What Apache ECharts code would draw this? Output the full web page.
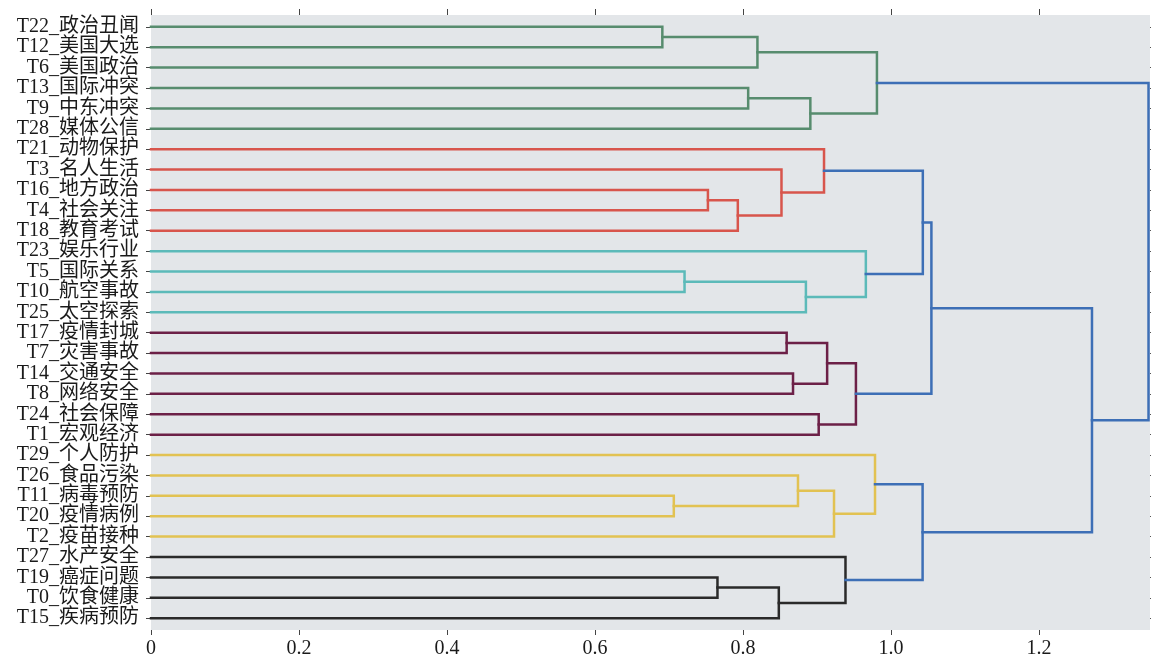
<!DOCTYPE html>
<html>
<head>
<meta charset="utf-8">
<script src="https://cdn.jsdelivr.net/npm/echarts@6/dist/echarts.min.js"></script>
<style>
  html, body { margin: 0; padding: 0; background: #ffffff; }
  #chart { width: 1151px; height: 659px; }
</style>
</head>
<body>
<div id="chart"></div>
<script>
// Leaf labels, top to bottom
const leaves = [
  'T22_政治丑闻', 'T12_美国大选', 'T6_美国政治', 'T13_国际冲突', 'T9_中东冲突',
  'T28_媒体公信', 'T21_动物保护', 'T3_名人生活', 'T16_地方政治', 'T4_社会关注',
  'T18_教育考试', 'T23_娱乐行业', 'T5_国际关系', 'T10_航空事故', 'T25_太空探索',
  'T17_疫情封城', 'T7_灾害事故', 'T14_交通安全', 'T8_网络安全', 'T24_社会保障',
  'T1_宏观经济', 'T29_个人防护', 'T26_食品污染', 'T11_病毒预防', 'T20_疫情病例',
  'T2_疫苗接种', 'T27_水产安全', 'T19_癌症问题', 'T0_饮食健康', 'T15_疾病预防'
];

// Cluster merges: node ids 0..29 are leaves, each merge creates node 30, 31, ...
// [child A, child B, merge distance, branch group]
const mergeLeft   = [0, 30, 3, 32, 31,  8, 35, 7, 6, 12, 39, 11, 38, 15, 17, 43, 19, 45, 42, 23, 22, 50, 21, 27, 53, 26, 52, 48, 34];
const mergeRight  = [1,  2, 4,  5, 33,  9, 10, 36, 37, 13, 14, 40, 41, 16, 18, 44, 20, 46, 47, 24, 49, 25, 51, 28, 29, 54, 55, 56, 57];
const mergeHeight = [0.691, 0.8195, 0.807, 0.891, 0.981,
                     0.7526, 0.793, 0.852, 0.9095,
                     0.721, 0.885, 0.966,
                     1.043,
                     0.859, 0.8676, 0.9137, 0.9023, 0.9526,
                     1.0546,
                     0.7065, 0.8743, 0.923, 0.9784,
                     0.7655, 0.8484, 0.9385,
                     1.0427, 1.2716, 1.348];
const mergeGroup  = ['g', 'g', 'g', 'g', 'g',
                     'r', 'r', 'r', 'r',
                     'c', 'c', 'c',
                     'b',
                     'p', 'p', 'p', 'p', 'p',
                     'b',
                     'y', 'y', 'y', 'y',
                     'k', 'k', 'k',
                     'b', 'b', 'b'];

const xTicks = [0, 0.2, 0.4, 0.6, 0.8, 1.0, 1.2];
const leafRows = leaves.map((_, i) => i);

const groupColors = {
  g: '#578c6e', r: '#d8554c', c: '#5cbab9', p: '#6c2047',
  y: '#e2c252', k: '#2a2a2a', b: '#3d6fb6'
};

// Position (leaf row) and height of every node
const nodeY = leafRows.slice();
const nodeH = leaves.map(() => 0);
const series = [];
mergeLeft.forEach((a, i) => {
  const b = mergeRight[i];
  const h = mergeHeight[i];
  nodeY.push((nodeY[a] + nodeY[b]) / 2);
  nodeH.push(h);
  series.push({
    type: 'line',
    xAxisIndex: 0,
    yAxisIndex: 0,
    symbol: 'none',
    silent: true,
    animation: false,
    lineStyle: { color: groupColors[mergeGroup[i]], width: 2.5, cap: 'square', join: 'miter' },
    data: [
      [nodeH[a], nodeY[a]],
      [h, nodeY[a]],
      [h, nodeY[b]],
      [nodeH[b], nodeY[b]]
    ]
  });
});

const fontFamily = "'Liberation Serif', 'Noto Sans CJK SC', serif";
const fmt = v => (v === 0 ? '0' : v.toFixed(1));
const rowMin = -0.58, rowMax = leaves.length - 1 + 0.58;

const chart = echarts.init(document.getElementById('chart'), null, { renderer: 'canvas' });
chart.setOption({
  backgroundColor: '#ffffff',
  animation: false,
  grid: {
    left: 151, right: 1, top: 15, bottom: 27,
    show: true, backgroundColor: '#e3e6e9', borderWidth: 0
  },
  xAxis: [
    {
      type: 'value', position: 'bottom', min: 0, max: 1.35,
      splitLine: { show: false },
      axisLine: { show: false, onZero: false },
      axisTick: { show: true, length: 5, customValues: xTicks, lineStyle: { color: '#444', width: 1 } },
      axisLabel: {
        customValues: xTicks, formatter: fmt, margin: 9,
        showMinLabel: true, showMaxLabel: true,
        fontFamily, fontSize: 20, color: '#1a1a1a'
      }
    },
    {
      type: 'value', position: 'top', min: 0, max: 1.35,
      splitLine: { show: false },
      axisLine: { show: false, onZero: false },
      axisTick: { show: true, length: 6, customValues: xTicks, lineStyle: { color: '#444', width: 1 } },
      axisLabel: { show: false }
    }
  ],
  yAxis: [
    {
      type: 'value', position: 'left', inverse: true, min: rowMin, max: rowMax,
      axisLine: { show: false, onZero: false },
      axisTick: { show: true, length: 5, customValues: leafRows, lineStyle: { color: '#444', width: 1 } },
      axisLabel: {
        customValues: leafRows, formatter: v => leaves[Math.round(v)],
        showMinLabel: true, showMaxLabel: true, hideOverlap: false,
        lineHeight: 16,
        margin: 12, fontFamily, fontSize: 20, color: '#1a1a1a'
      },
      splitLine: { show: false }
    },
    {
      type: 'value', position: 'right', inverse: true, min: rowMin, max: rowMax,
      axisLine: { show: false, onZero: false },
      axisTick: { show: true, length: 5, customValues: leafRows, lineStyle: { color: '#555', width: 1 } },
      axisLabel: { show: false },
      splitLine: { show: false }
    }
  ],
  series
});
</script>
</body>
</html>
